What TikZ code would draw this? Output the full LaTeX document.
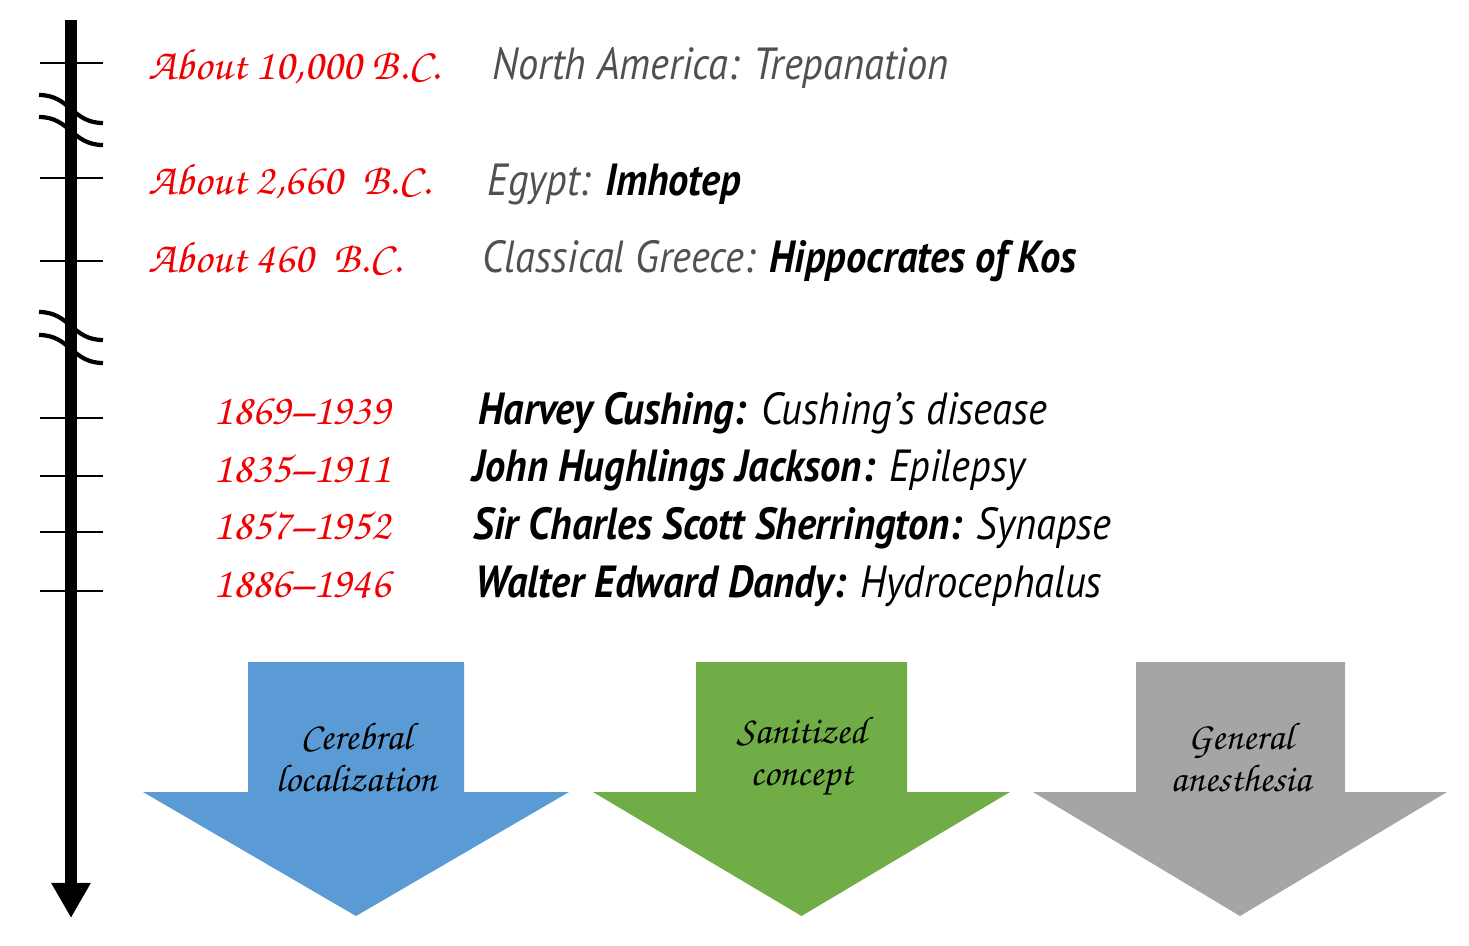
\documentclass[tikz,border=0pt]{standalone}
\usepackage[T1]{fontenc}
\usepackage{fontspec}
\setmainfont{PT Sans}[FakeStretch=0.9]
\usetikzlibrary{arrows.meta}

\newcommand\brushfont{\fontencoding{T1}\fontfamily{pzc}\fontseries{mb}\fontshape{it}\selectfont}
\definecolor{datered}{HTML}{F00000}
\definecolor{eventgray}{HTML}{505050}
\definecolor{arrowblue}{HTML}{5B9BD5}
\definecolor{arrowgreen}{HTML}{70AD47}
\definecolor{arrowgray}{HTML}{A5A5A5}

\tikzset{
    tick/.style={line width=0.7pt},
    brk/.style={line width=1.2pt},
    datelbl/.style={anchor=base west, inner sep=0pt, text=datered,
                    font={\fontsize{12.5}{14}\brushfont}},
    eventlbl/.style={anchor=base west, inner sep=0pt,
                     font={\fontsize{12.8}{14}\selectfont\itshape}},
    arrowlbl/.style={align=center, inner sep=0pt,
                     font={\fontsize{11}{12}\brushfont}},
}

\begin{document}
\begin{tikzpicture}[x=0.01cm, y=-0.01cm]
        \useasboundingbox (0,0) rectangle (1469,945);
        % breaks in the time line
        \foreach \y in {95, 117, 312, 335} {
            \draw[brk] (39,\y) .. controls (70,\y) and (72,\y+28) .. (103,\y+28);
        }
        % ticks
        \foreach \y in {63, 178, 261, 418, 476, 532, 591} {
            \draw[tick] (40,\y) -- (103,\y);
        }
        % time line
        \coordinate (top) at (71,20);
        \coordinate (bot) at (71,918);
        \draw[line width=0.12cm, -{Triangle[width=0.37cm, length=0.35cm]}] (top) -- (bot);

        % dates
        \node[datelbl] (d1) at (148,79) {About 10,000 B.C.};
        \node[datelbl] (d2) at (148,194) {About 2,660~ B.C.};
        \node[datelbl] (d3) at (148,272) {About 460~ B.C.};
        \node[datelbl] (d4) at (213,424) {1869--1939};
        \node[datelbl] (d5) at (213,482) {1835--1911};
        \node[datelbl] (d6) at (213,539) {1857--1952};
        \node[datelbl] (d7) at (213,597) {1886--1946};

        % events
        \node[eventlbl] (e1) at (492,79) {\color{eventgray}North America: Trepanation};
        \node[eventlbl] (e2) at (487,195) {{\color{eventgray}Egypt:} \textbf{Imhotep}};
        \node[eventlbl] (e3) at (482,272) {{\color{eventgray}Classical Greece:} \textbf{Hippocrates of Kos}};
        \node[eventlbl] (e4) at (478,424) {\textbf{Harvey Cushing:} Cushing’s disease};
        \node[eventlbl] (e5) at (472,481) {\textbf{John Hughlings Jackson:} Epilepsy};
        \node[eventlbl] (e6) at (473,539) {\textbf{Sir Charles Scott Sherrington:} Synapse};
        \node[eventlbl] (e7) at (475,597) {\textbf{Walter Edward Dandy:} Hydrocephalus};

        % big arrows
        \foreach \sl/\sr/\hl/\hr/\col/\nm/\txt in
            {248/464/143/569/arrowblue/cer/{Cerebral\\localization},
             696/907/593/1010/arrowgreen/san/{Sanitized\\concept},
             1136/1345/1033/1447/arrowgray/gen/{General\\anesthesia}} {
            \fill[\col] (\sl,662) -- (\sr,662) -- (\sr,792) -- (\hr,792) --
                        ({(\hl+\hr)/2},916) -- (\hl,792) -- (\sl,792) -- cycle;
            \node[arrowlbl] (\nm) at ({(\sl+\sr)/2},757) {\txt};
        }
\end{tikzpicture}
\end{document}
